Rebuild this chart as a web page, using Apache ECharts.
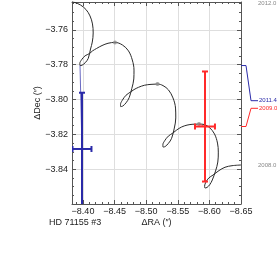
<!DOCTYPE html>
<html><head><meta charset="utf-8">
<script src="https://cdn.jsdelivr.net/npm/echarts@6/dist/echarts.min.js"></script>
<style>html,body{margin:0;padding:0;background:#fff}#c{width:277px;height:269px}</style>
</head><body><div id="c"></div>
<script>
// Orbit + parallax track (ΔRA, ΔDec in arcsec), from 2008.0 to 2012.0
const trackRA = [
-8.6500,-8.6358,-8.6247,-8.6152,-8.6057,
-8.5992,-8.5944,-8.5924,-8.5930,-8.5962,-8.6006,-8.6046,
-8.6097,-8.6133,-8.6141,-8.6128,-8.6081,-8.6002,-8.5922,-8.5835,-8.5740,-8.5646,-8.5559,-8.5483,-8.5424,
-8.5351,-8.5292,-8.5264,-8.5266,-8.5300,-8.5351,-8.5402,
-8.5445,-8.5468,-8.5464,-8.5424,-8.5353,-8.5266,-8.5179,-8.5076,-8.4973,-8.4878,-8.4807,-8.4752,
-8.4679,-8.4621,-8.4594,-8.4597,-8.4631,-8.4681,-8.4731,
-8.4772,-8.4804,-8.4807,-8.4780,-8.4720,-8.4625,-8.4506,-8.4396,-8.4301,-8.4214,-8.4150,-8.4103,
-8.4033,-8.3977,-8.3950,-8.3953,-8.3985,-8.4034,-8.4083,
-8.4119,-8.4147,-8.4161,-8.4150,-8.4111,-8.4047,-8.3960,-8.3873,-8.3826];
const trackDec = [
-3.8376,-3.8380,-3.8389,-3.8408,-3.8434,
-3.8450,-3.8475,-3.8497,-3.8508,-3.8505,-3.8489,-3.8462,
-3.8411,-3.8359,-3.8302,-3.8250,-3.8198,-3.8161,-3.8144,-3.8141,-3.8142,-3.8147,-3.8158,-3.8175,-3.8192,
-3.8210,-3.8237,-3.8260,-3.8273,-3.8270,-3.8252,-3.8223,
-3.8164,-3.8106,-3.8049,-3.7991,-3.7945,-3.7920,-3.7911,-3.7913,-3.7918,-3.7930,-3.7943,-3.7957,
-3.7976,-3.8005,-3.8028,-3.8041,-3.8037,-3.8019,-3.7989,
-3.7937,-3.7882,-3.7831,-3.7773,-3.7721,-3.7687,-3.7672,-3.7677,-3.7690,-3.7707,-3.7721,-3.7736,
-3.7749,-3.7772,-3.7793,-3.7805,-3.7803,-3.7789,-3.7764,
-3.7710,-3.7670,-3.7618,-3.7566,-3.7520,-3.7483,-3.7457,-3.7443,-3.7439];
const trackStartLabel = '2008.0';
const trackEndLabel = '2012.0';

// yearly marks on the track
const dotRA  = [-8.5835, -8.5179, -8.4506];
const dotDec = [-3.8141, -3.7911, -3.7672];

// measurements
const epochs  = ['2011.4', '2009.0'];
const measRA  = [-8.3984, -8.5930];
const measDec = [-3.8284, -3.8155];
const errRA   = [0.0150, 0.0158];
const errDec  = [0.0323, 0.0316];
const predRA  = [-8.3953, -8.5835];
const predDec = [-3.7805, -3.8141];
const epochColors = ['#2a2aa8', '#ff2a2a'];

// axes
const xTicks = [-8.65, -8.60, -8.55, -8.50, -8.45, -8.40];
const yTicks = [-3.84, -3.82, -3.80, -3.78, -3.76];
const xMin = -8.65, xMax = -8.3826, yMin = -3.86, yMax = -3.744;
const title = 'HD 71155 #3';
const xName = 'ΔRA (″)';
const yName = 'ΔDec (″)';

const FONT = 'Liberation Sans, Arial, sans-serif';
const fmt = v => v.toFixed(2).replace('-', '\u2212');
const isTick = (list, v) => list.some(t => Math.abs(t - v) < 1e-6);

const chart = echarts.init(document.getElementById('c'), null, {renderer: 'canvas'});
const axCol = '#555';
const baseX = {
  type: 'value', inverse: true, min: xMin, max: xMax, interval: 0.05,
  axisLine: {show: true, onZero: false, lineStyle: {color: axCol, width: 1}},
  axisTick: {show: true, inside: true, length: 4, lineStyle: {color: axCol}},
  minorTick: {show: true, splitNumber: 5, length: 2, lineStyle: {color: axCol}},
};
const baseY = {
  type: 'value', min: yMin, max: yMax, interval: 0.02,
  axisLine: {show: true, onZero: false, lineStyle: {color: axCol, width: 1}},
  axisTick: {show: true, inside: true, length: 4, lineStyle: {color: axCol}},
  minorTick: {show: true, splitNumber: 4, length: 2, lineStyle: {color: axCol}},
};

chart.setOption({
  animation: false,
  grid: {left: 72, right: 36, top: 2, bottom: 65, containLabel: false},
  xAxis: [
    Object.assign({}, baseX, {
      position: 'bottom',
      splitLine: {show: true, lineStyle: {color: '#dedede', width: 1}},
      axisLabel: {fontSize: 9, fontFamily: FONT, color: '#222', margin: 3,
        formatter: v => isTick(xTicks, v) ? fmt(v) : ''},
      name: xName, nameLocation: 'middle', nameGap: 14, nameMoveOverlap: false,
      nameTextStyle: {fontSize: 9, fontFamily: FONT, color: '#222'}
    }),
    Object.assign({}, baseX, {position: 'top', axisLabel: {show: false}, splitLine: {show: false}})
  ],
  yAxis: [
    Object.assign({}, baseY, {
      position: 'left',
      splitLine: {show: true, lineStyle: {color: '#dedede', width: 1}},
      axisLabel: {fontSize: 9, fontFamily: FONT, color: '#222', margin: 4,
        formatter: v => isTick(yTicks, v) ? fmt(v) : ''},
      name: yName, nameLocation: 'middle', nameGap: 30, nameRotate: 90, nameMoveOverlap: false,
      nameTextStyle: {fontSize: 9, fontFamily: FONT, color: '#222'}
    }),
    Object.assign({}, baseY, {position: 'right', axisLabel: {show: false}, splitLine: {show: false}})
  ],
  series: [
    {
      type: 'line', xAxisIndex: 0, yAxisIndex: 0,
      data: trackRA.map((x, i) => [x, trackDec[i]]),
      smooth: 0.35, showSymbol: false, clip: true,
      lineStyle: {color: '#2a2a2a', width: 1}, z: 2
    },
    {
      type: 'scatter', data: dotRA.map((x, i) => [x, dotDec[i]]),
      symbolSize: 4, itemStyle: {color: '#8a8a8a'}, z: 3
    },
    ...epochs.map((e, i) => ({
      type: 'line', data: [[predRA[i], predDec[i]], [measRA[i], measDec[i]]],
      showSymbol: false, lineStyle: {color: epochColors[i], width: 1, opacity: 0.7}, z: 4
    })),
    {
      type: 'custom', clip: true, z: 5,
      data: measRA.map((x, i) => [x, measDec[i], errRA[i], errDec[i]]),
      renderItem: (params, api) => {
        const x = api.value(0), y = api.value(1), ex = api.value(2), ey = api.value(3);
        const col = epochColors[params.dataIndex];
        const c = api.coord([x, y]);
        const t = api.coord([x, y + ey]), b = api.coord([x, y - ey]);
        const l = api.coord([x + ex, y]), r = api.coord([x - ex, y]);
        const cap = 3;
        const st = {stroke: col, lineWidth: 2, fill: null};
        const ln = (x1, y1, x2, y2) => ({type: 'line', shape: {x1, y1, x2, y2}, style: st});
        return {type: 'group', children: [
          ln(c[0], t[1], c[0], b[1]),
          ln(c[0] - cap, t[1], c[0] + cap, t[1]),
          ln(c[0] - cap, b[1], c[0] + cap, b[1]),
          ln(l[0], c[1], r[0], c[1]),
          ln(l[0], c[1] - cap, l[0], c[1] + cap),
          ln(r[0], c[1] - cap, r[0], c[1] + cap)
        ]};
      }
    }
  ]
});

// side annotations (connectors + epoch labels)
const px = (x, y) => chart.convertToPixel({gridIndex: 0}, [x, y]);
const axisRight = px(xMin, yMin)[0];
const anchorY = [px(xMin, predDec[0])[1], px(xMin, measDec[1])[1]];
const labelY = [100.7, 108.3];
const g = [];
epochs.forEach((e, i) => {
  g.push({type: 'polyline', silent: true, shape: {points: [
      [axisRight, anchorY[i]], [axisRight + 5, anchorY[i]],
      [axisRight + 10, labelY[i]], [axisRight + 17, labelY[i]]]},
    style: {stroke: epochColors[i], lineWidth: 1, fill: null}, z: 10});
  g.push({type: 'text', silent: true, x: axisRight + 18, y: labelY[i],
    style: {text: e, fontSize: 6, fontFamily: FONT, fill: epochColors[i], verticalAlign: 'middle', align: 'left'}, z: 10});
});
const endY = px(xMin, trackDec[trackDec.length - 1])[1];
const startY = px(xMin, trackDec[0])[1];
g.push({type: 'text', silent: true, x: axisRight + 17, y: Math.max(endY, 3.5),
  style: {text: trackEndLabel, fontSize: 6, fontFamily: FONT, fill: '#888', verticalAlign: 'middle', align: 'left'}});
g.push({type: 'text', silent: true, x: axisRight + 17, y: startY,
  style: {text: trackStartLabel, fontSize: 6, fontFamily: FONT, fill: '#888', verticalAlign: 'middle', align: 'left'}});
g.push({type: 'text', silent: true, x: 49, y: 222.5,
  style: {text: title, fontSize: 9, fontFamily: FONT, fill: '#222', verticalAlign: 'middle', align: 'left'}});
chart.setOption({graphic: g});
</script>
</body></html>
